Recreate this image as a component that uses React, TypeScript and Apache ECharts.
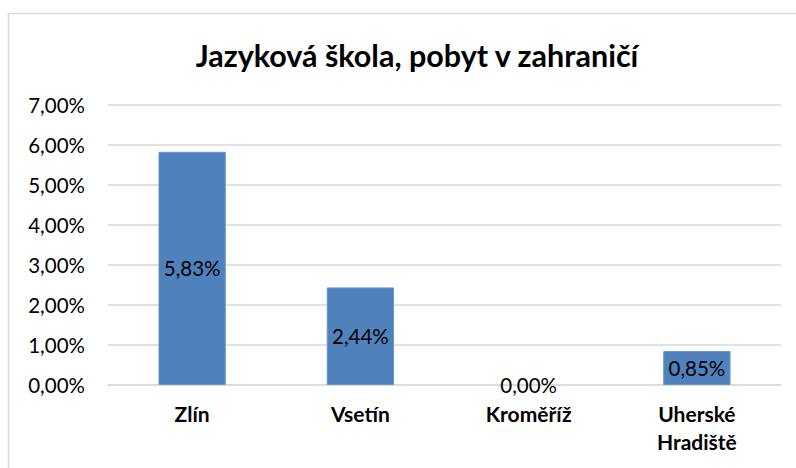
import React, { useEffect, useRef } from "react";
import * as echarts from "echarts";

const categories = ["Zlín", "Vsetín", "Kroměříž", "Uherské\nHradiště"];
const values = [5.83, 2.44, 0.0, 0.85];
const yTicks = [0, 1, 2, 3, 4, 5, 6, 7];

const fmt = (v: number) => v.toFixed(2).replace(".", ",") + "%";
const FONT = "Lato, 'Open Sans', sans-serif";

export default function App() {
  const ref = useRef<HTMLDivElement>(null);
  useEffect(() => {
    if (!ref.current) return;
    const chart = echarts.init(ref.current, undefined, { renderer: "svg" });
    chart.setOption({
      animation: false,
      backgroundColor: "#ffffff",
      graphic: [
        {
          type: "rect",
          shape: { x: 8.5, y: 13.5, width: 800, height: 470 },
          style: { fill: "none", stroke: "#d9d9d9", lineWidth: 1.5 },
          silent: true,
          z: -1,
        },
      ],
      title: {
        text: "Jazyková škola, pobyt v zahraničí",
        left: 412,
        top: 34,
        textAlign: "center",
        textStyle: { fontFamily: FONT, fontWeight: "bold", fontSize: 30.5, color: "#000" },
      },
      grid: { left: 108, right: 15, top: 105, bottom: 83 },
      xAxis: {
        type: "category",
        data: categories,
        axisLine: { lineStyle: { color: "#d9d9d9", width: 1.5 } },
        axisTick: { show: false },
        axisLabel: {
          fontFamily: FONT,
          fontWeight: "bold",
          fontSize: 21,
          color: "#000",
          margin: 14,
          lineHeight: 28,
        },
      },
      yAxis: {
        type: "value",
        min: yTicks[0],
        max: yTicks[yTicks.length - 1],
        interval: 1,
        axisLine: { show: false },
        axisTick: { show: false },
        splitLine: { lineStyle: { color: "#d9d9d9", width: 1.5 } },
        axisLabel: {
          formatter: (v: number) => fmt(v),
          fontFamily: FONT,
          fontSize: 20.5,
          color: "#000",
          margin: 23,
        },
      },
      series: [
        {
          type: "bar",
          data: values.map((v) => ({
            value: v,
            itemStyle: v === 0 ? { borderWidth: 0 } : undefined,
          })),
          barWidth: "40%",
          itemStyle: { color: "#4f81bd", borderColor: "#6b95c8", borderWidth: 1 },
          label: {
            show: true,
            position: "inside",
            formatter: (p: any) => fmt(p.value),
            fontFamily: FONT,
            fontSize: 20.5,
            color: "#000",
          },
        },
      ],
    });
    return () => chart.dispose();
  }, []);
  return <div ref={ref} style={{ width: 796, height: 468, position: "absolute", left: 0, top: 0 }} />;
}
